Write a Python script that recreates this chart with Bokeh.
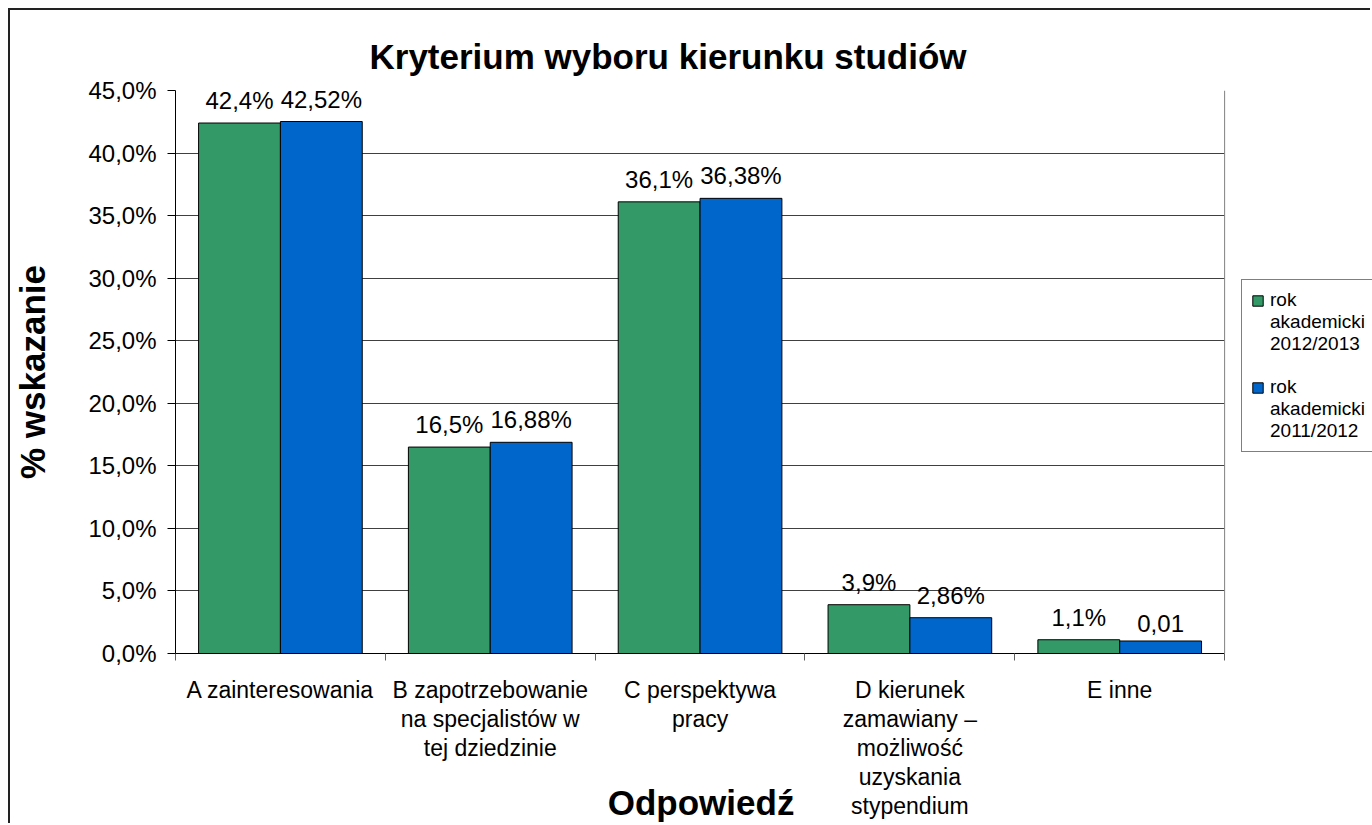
from bokeh.plotting import figure
from bokeh.models import (ColumnDataSource, FixedTicker, LabelSet,
                          Legend, LegendItem, Range1d, Span)
from bokeh.core.properties import value
from bokeh.embed import file_html
from bokeh.resources import INLINE

categories = ["A zainteresowania",
              "B zapotrzebowanie\nna specjalistów w\ntej dziedzinie",
              "C perspektywa\npracy",
              "D kierunek\nzamawiany –\nmożliwość\nuzyskania\nstypendium",
              "E inne"]
series_names = [["rok", "akademicki", "2012/2013"], ["rok", "akademicki", "2011/2012"]]
values_2012_2013 = [42.4, 16.5, 36.1, 3.9, 1.1]
values_2011_2012 = [42.52, 16.88, 36.38, 2.86, 1.0]
labels_2012_2013 = ["42,4%", "16,5%", "36,1%", "3,9%", "1,1%"]
labels_2011_2012 = ["42,52%", "16,88%", "36,38%", "2,86%", "0,01"]
y_ticks = [0, 5, 10, 15, 20, 25, 30, 35, 40, 45]
y_tick_labels = ["0,0%", "5,0%", "10,0%", "15,0%", "20,0%", "25,0%",
                 "30,0%", "35,0%", "40,0%", "45,0%"]
title_text = "Kryterium wyboru kierunku studiów"
x_title = "Odpowiedź"
y_title = "% wskazanie"

FONT = "Liberation Sans"
GREEN = "#339966"
BLUE = "#0066CC"

n = len(categories)
bar_w = 0.39
centers = [i + 0.5 for i in range(n)]

W, H = 1362, 815
ML, MT, MB = 164, 80, 172
px_per_cat = 210.0
x_max = (W - ML) / px_per_cat   # plot area continues right to hold the legend

p = figure(width=W, height=H, output_backend="svg", toolbar_location=None,
           x_range=Range1d(0, x_max), y_range=Range1d(0, 45),
           min_border_left=ML, min_border_right=0, min_border_top=MT,
           min_border_bottom=MB)
p.styles = {"margin-left": "8px", "margin-top": "8px",
            "border-left": "2px solid #222", "border-top": "2px solid #222"}

src_g = ColumnDataSource(dict(x=[c - bar_w / 2 for c in centers], top=values_2012_2013,
                              lab=labels_2012_2013))
src_b = ColumnDataSource(dict(x=[c + bar_w / 2 for c in centers], top=values_2011_2012,
                              lab=labels_2011_2012))

# grid
p.xgrid.visible = False
try:
    p.ygrid.cross_bounds = (0, n)
    p.ygrid.ticker = FixedTicker(ticks=y_ticks)
    p.ygrid.grid_line_color = "#404040"
    p.ygrid.grid_line_width = 1
except Exception:
    p.ygrid.visible = False
    p.segment(x0=[0] * len(y_ticks), x1=[n] * len(y_ticks), y0=y_ticks, y1=y_ticks,
              line_color="#404040", line_width=1)
p.outline_line_color = None
p.add_layout(Span(location=n, dimension="height", line_color="#808080", line_width=1))

r1 = p.vbar(x="x", top="top", width=bar_w, source=src_g, fill_color=GREEN,
            line_color="black", line_width=1)
r2 = p.vbar(x="x", top="top", width=bar_w, source=src_b, fill_color=BLUE,
            line_color="black", line_width=1)
r_blank = p.scatter(x=[], y=[], size=1, fill_alpha=0, line_alpha=0)

for s in (src_g, src_b):
    p.add_layout(LabelSet(x="x", y="top", text="lab", source=s, text_align="center",
                          text_baseline="bottom", y_offset=9, text_font=value(FONT),
                          text_font_size=value("24px"), text_color="black"))

# title
p.title.text = title_text
p.title.text_font = FONT
p.title.text_font_size = "35px"
p.title.text_font_style = "bold"
p.title.text_color = "black"
p.title.align = "left"
p.title.offset = 194
p.title.standoff = 29

ya = p.yaxis[0]
ya.ticker = FixedTicker(ticks=y_ticks)
ya.major_label_overrides = {t: l for t, l in zip(y_ticks, y_tick_labels)}
ya.major_label_text_font = FONT
ya.major_label_text_font_size = "24px"
ya.major_label_text_color = "black"
ya.major_tick_out = 8
ya.major_tick_in = 0
ya.minor_tick_line_color = None
ya.axis_line_color = "black"
ya.major_tick_line_color = "black"
ya.major_label_standoff = 11
ya.axis_label = y_title
ya.axis_label_text_font = FONT
ya.axis_label_text_font_size = "35px"
ya.axis_label_text_font_style = "bold"
ya.axis_label_text_color = "black"
ya.axis_label_standoff = 33

xa = p.xaxis[0]
xa.bounds = (0, n)
xa.ticker = FixedTicker(ticks=centers, minor_ticks=list(range(n + 1)))
xa.major_label_overrides = {c: l for c, l in zip(centers, categories)}
xa.major_label_text_font = FONT
xa.major_label_text_font_size = "23px"
xa.major_label_text_color = "black"
xa.major_label_text_line_height = 1.12
xa.major_tick_line_color = None
xa.major_tick_out = 0
xa.minor_tick_out = 7
xa.minor_tick_in = 0
xa.minor_tick_line_color = "#606060"
xa.axis_line_color = "black"
xa.major_label_standoff = 16
# non-breaking spaces keep the axis title centred under the category area
xa.axis_label = x_title + "\u00a0" * 15
xa.axis_label_text_font = FONT
xa.axis_label_text_font_size = "35px"
xa.axis_label_text_font_style = "bold"
xa.axis_label_text_color = "black"
xa.axis_label_standoff = -39

items = []
for k, (r, lines) in enumerate(zip((r1, r2), series_names)):
    if k > 0:
        items.append(LegendItem(label=" ", renderers=[r_blank]))
    items.append(LegendItem(label=lines[0], renderers=[r]))
    for ln in lines[1:]:
        items.append(LegendItem(label=ln, renderers=[r_blank]))

legend = Legend(items=items, location=(1066, 201), margin=0, padding=9, spacing=0,
                label_text_font=FONT, label_text_font_size="19px",
                label_text_line_height=0.9, label_text_color="black",
                label_height=21, glyph_width=13, glyph_height=13, label_standoff=6,
                border_line_color="black", border_line_width=1,
                background_fill_alpha=1)
p.add_layout(legend, "center")

open("out.html", "w").write(file_html(p, INLINE))
